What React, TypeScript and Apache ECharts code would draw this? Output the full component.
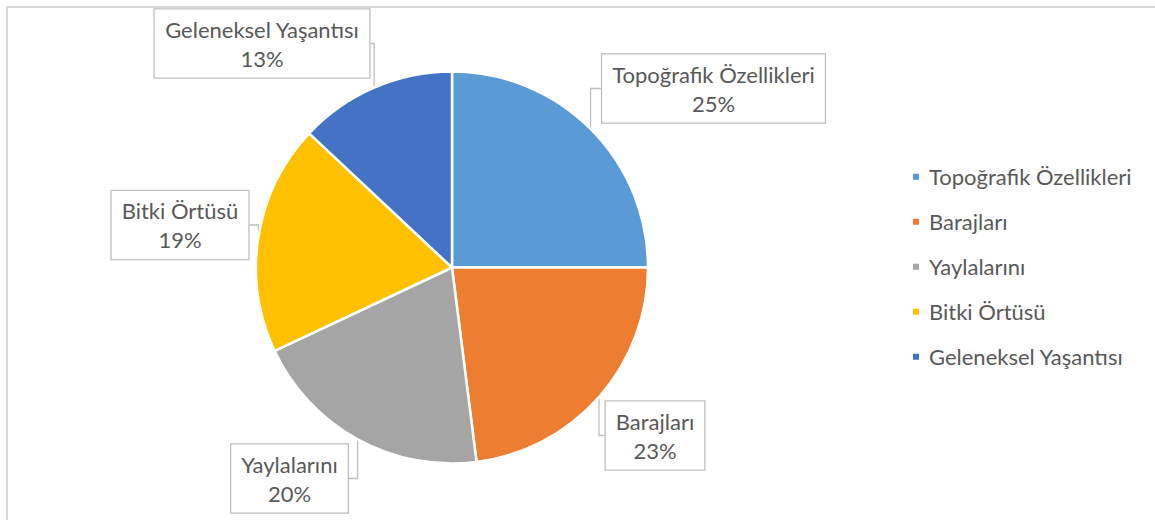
import React, { useEffect, useRef } from "react";
import * as echarts from "echarts";

const categories = [
  "Topoğrafik Özellikleri",
  "Barajları",
  "Yaylalarını",
  "Bitki Örtüsü",
  "Geleneksel Yaşantısı",
];
const values = [25, 23, 20, 19, 13];
const colors = ["#5B9BD5", "#ED7D31", "#A5A5A5", "#FFC000", "#4472C4"];

// label box centres (layout)
const labelCenters: [number, number][] = [
  [713.5, 88.5],
  [655, 435.5],
  [289.5, 478.5],
  [180, 225],
  [262, 43.5],
];

const FONT = "Lato, 'Open Sans', sans-serif";

export default function App() {
  const ref = useRef<HTMLDivElement>(null);
  useEffect(() => {
    if (!ref.current) return;
    const chart = echarts.init(ref.current, undefined, { renderer: "svg" });
    chart.setOption({
      animation: false,
      backgroundColor: "#ffffff",
      color: colors,
      graphic: [
        {
          type: "rect",
          shape: { x: 7, y: 7, width: 1170, height: 540 },
          style: { fill: "none", stroke: "#d9d9d9", lineWidth: 2 },
          silent: true,
        },
      ],
      legend: {
        orient: "vertical",
        left: 906,
        top: 160.7,
        icon: "rect",
        itemWidth: 8,
        itemHeight: 8,
        itemGap: 23,
        data: categories,
        textStyle: {
          fontFamily: FONT,
          fontSize: 22,
          color: "#595959",
          lineHeight: 22,
          padding: [0, 0, 0, 4],
        },
      },
      series: [
        {
          type: "pie",
          center: [452, 267.5],
          radius: 196,
          startAngle: 90,
          clockwise: true,
          percentPrecision: 0,
          itemStyle: { borderColor: "#ffffff", borderWidth: 2.5 },
          data: categories.map((name, i) => ({ name, value: values[i] })),
          label: {
            show: true,
            formatter: "{b}\n{d}%",
            fontFamily: FONT,
            fontSize: 22,
            lineHeight: 29,
            color: "#595959",
            backgroundColor: "#ffffff",
            borderColor: "#bfbfbf",
            borderWidth: 1.3,
            padding: [5, 10, 5, 10],
            align: "center",
          },
          labelLine: {
            show: true,
            lineStyle: { color: "#bfbfbf", width: 1.3 },
          },
          labelLayout: (params: any) => {
            const c = labelCenters[params.dataIndex];
            return {
              x: c[0],
              y: c[1],
              align: "center",
              verticalAlign: "middle",
            };
          },
          emphasis: { disabled: true },
        },
      ],
    });
    return () => chart.dispose();
  }, []);
  return (
    <div
      ref={ref}
      style={{ position: "fixed", left: 0, top: 0, width: 1155, height: 520 }}
    />
  );
}
